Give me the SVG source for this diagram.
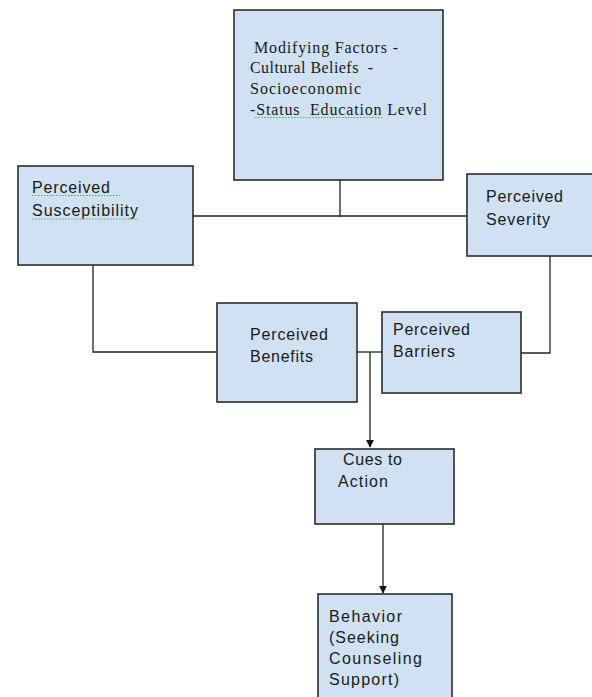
<svg xmlns="http://www.w3.org/2000/svg" width="592" height="697" viewBox="0 0 592 697">
<style>
.box{fill:#cfe1f3;stroke:#2b2b2b;stroke-width:1.6}
.sans{font-family:"Liberation Sans",Arial,sans-serif;font-size:16px;fill:#1a1a1a}
.serif{font-family:"Liberation Serif","Times New Roman",serif;font-size:16px;fill:#1a1a1a}
.ln{fill:none;stroke:#222;stroke-width:1.3}
.sq{fill:none;stroke:#4caf50;stroke-width:1;stroke-dasharray:1.5 1.5}
</style>
<defs>
<marker id="arr" viewBox="0 0 10 10" refX="9" refY="5" markerWidth="8" markerHeight="8" markerUnits="userSpaceOnUse" orient="auto">
<path d="M0,0 L10,5 L0,10 z" fill="#111"/>
</marker>
</defs>
<rect width="592" height="697" fill="#ffffff"/>
<g id="connectors">
<path class="ln" d="M340,180 V217"/>
<path class="ln" d="M193,216 H467"/>
<path class="ln" d="M93,265 V352 H217"/>
<path class="ln" d="M357,352 H382"/>
<path class="ln" d="M521,353 H550 V256"/>
<path class="ln" d="M370,352 V447" marker-end="url(#arr)"/>
<path class="ln" d="M383,524 V593" marker-end="url(#arr)"/>
</g>
<g id="modifying">
<rect class="box" x="234" y="10" width="209" height="170"/>
<text class="serif" x="254" y="53" textLength="144">Modifying Factors -</text>
<text class="serif" x="250" y="73" textLength="123" xml:space="preserve">Cultural Beliefs  -</text>
<text class="serif" x="250" y="94" textLength="111">Socioeconomic</text>
<text class="serif" x="250" y="115" textLength="177" xml:space="preserve">-Status  Education Level</text>
<path class="sq" d="M255,117.5 H382"/>
</g>
<g id="susceptibility">
<rect class="box" x="18" y="166" width="175" height="99"/>
<text class="sans" x="32" y="193" textLength="78">Perceived</text>
<text class="sans" x="32" y="216" textLength="106">Susceptibility</text>
<path class="sq" d="M32,195.5 H120"/>
<path class="sq" d="M32,219 H138"/>
</g>
<g id="severity">
<rect class="box" x="467" y="174" width="130" height="82"/>
<text class="sans" x="486" y="202" textLength="77">Perceived</text>
<text class="sans" x="486" y="225" textLength="64">Severity</text>
</g>
<g id="benefits">
<rect class="box" x="217" y="303" width="140" height="99"/>
<text class="sans" x="250" y="340" textLength="78">Perceived</text>
<text class="sans" x="250" y="362" textLength="63">Benefits</text>
</g>
<g id="barriers">
<rect class="box" x="382" y="312" width="139" height="81"/>
<text class="sans" x="393" y="335" textLength="77">Perceived</text>
<text class="sans" x="393" y="357" textLength="62">Barriers</text>
</g>
<g id="cues">
<rect class="box" x="315" y="449" width="139" height="75"/>
<text class="sans" x="343" y="465" textLength="59">Cues to</text>
<text class="sans" x="338" y="487" textLength="50">Action</text>
</g>
<g id="behavior">
<rect class="box" x="318" y="594" width="134" height="110"/>
<text class="sans" x="329" y="622" textLength="73">Behavior</text>
<text class="sans" x="329" y="643" textLength="70">(Seeking</text>
<text class="sans" x="329" y="664" textLength="93">Counseling</text>
<text class="sans" x="329" y="685" textLength="70">Support)</text>
</g>
</svg>
